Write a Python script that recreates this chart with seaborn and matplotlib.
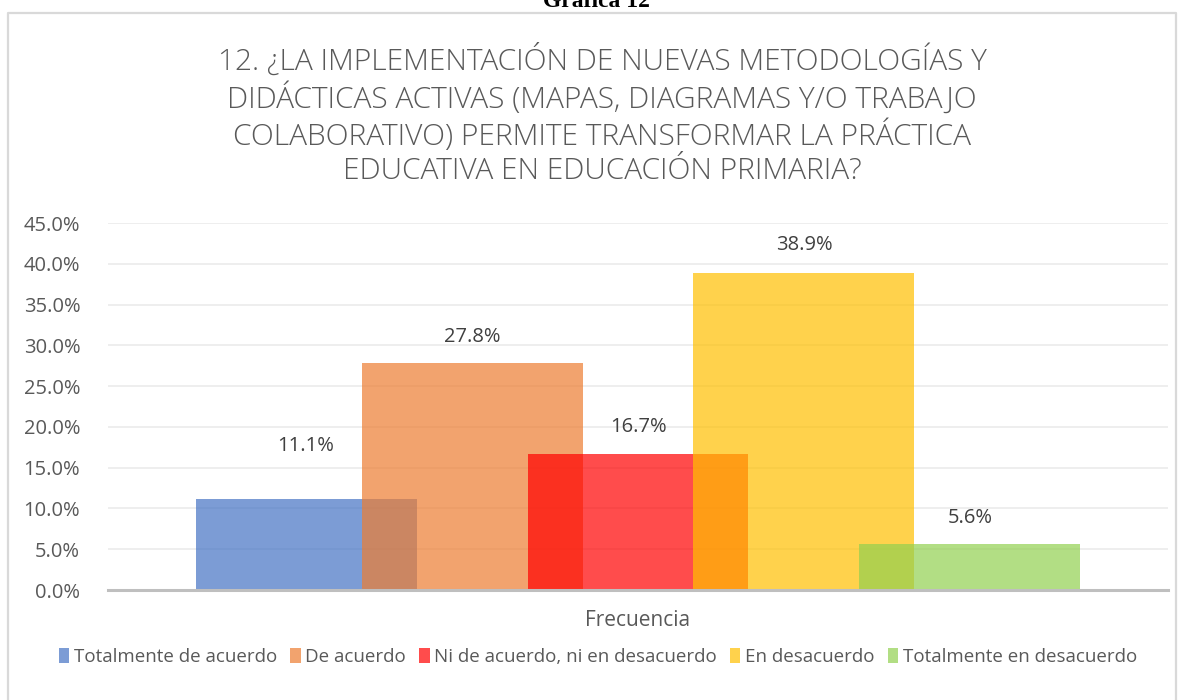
import numpy as np
import pandas as pd
import seaborn as sns
import matplotlib.pyplot as plt
from matplotlib.patches import Patch
from matplotlib.lines import Line2D

# datos de la gráfica
categoria = ["Frecuencia"]
respuestas = ["Totalmente de acuerdo", "De acuerdo", "Ni de acuerdo, ni en desacuerdo",
              "En desacuerdo", "Totalmente en desacuerdo"]
porcentajes = [0.111, 0.278, 0.167, 0.389, 0.056]
colores = ["#4472C4", "#ED7D31", "#FF0000", "#FFC000", "#92D050"]
titulo = ("12. ¿LA IMPLEMENTACIÓN DE NUEVAS METODOLOGÍAS Y\n"
          "DIDÁCTICAS ACTIVAS (MAPAS, DIAGRAMAS Y/O TRABAJO\n"
          "COLABORATIVO) PERMITE TRANSFORMAR LA PRÁCTICA\n"
          "EDUCATIVA EN EDUCACIÓN PRIMARIA?")

df = pd.DataFrame({"cat": categoria * len(respuestas),
                   "resp": respuestas,
                   "pct": porcentajes})

sns.set_theme(style="white")
plt.rcParams['font.family'] = ['Open Sans', 'DejaVu Sans']
gris = "#595959"

fig = plt.figure(figsize=(11.83, 7.0), dpi=100)
ax = fig.add_axes([108 / 1183, 1 - 590 / 700, 1060 / 1183, 367 / 700])

sns.barplot(data=df, x="cat", y="pct", hue="resp", hue_order=respuestas,
            palette=colores, width=0.783, alpha=0.7, saturation=1,
            legend=False, ax=ax, zorder=3)

# ensanchar las barras para que se solapen como en el original
factor = 221 / 166
for p in ax.patches:
    w = p.get_width()
    c = p.get_x() + w / 2
    p.set_width(w * factor)
    p.set_x(c - w * factor / 2)
    p.set_linewidth(0)

ax.set_ylim(0, 0.45)
ax.set_xlim(-0.5, 0.5)
ax.set_yticks(np.arange(0, 0.451, 0.05))
ax.yaxis.set_major_formatter(plt.FuncFormatter(lambda v, _: f"{v * 100:.1f}%"))
ax.tick_params(axis='y', labelsize=14.5, colors=gris, length=0, pad=20)
ax.tick_params(axis='x', length=0)
ax.set_xticklabels([])
ax.set_xlabel("")
ax.set_ylabel("")
ax.grid(axis='y', color="#EDEDED", linewidth=1.3, zorder=0)
for s in ["top", "right", "left"]:
    ax.spines[s].set_visible(False)
ax.spines["bottom"].set_color("#BFBFBF")
ax.spines["bottom"].set_linewidth(2.2)
ax.spines["bottom"].set_zorder(4)

# etiquetas de datos
desplaz = [31, 12, 12, 13, 12]
for p, v, d in zip(ax.patches, porcentajes, desplaz):
    ax.annotate(f"{v * 100:.1f}%", (p.get_x() + p.get_width() / 2, v),
                xytext=(0, d), textcoords="offset points", ha="center", va="bottom",
                fontsize=14.5, color="#404040")

fig.text(638 / 1183, 1 - 621 / 700, "Frecuencia", ha="center", va="center",
         fontsize=15, color=gris)

fig.text(602 / 1183, 1 - 115 / 700, titulo, ha="center", va="center",
         fontsize=21.5, color=gris, fontweight="light", linespacing=1.2)

# encabezado cortado del documento
fig.text(596 / 1183, 1 - 7 / 700, "Gráfica 12", ha="center", va="baseline",
         fontsize=17, fontweight="bold", family="Liberation Serif", color="black")

# borde del área del gráfico
fig.add_artist(Line2D([8 / 1183, 8 / 1183, 1176 / 1183, 1176 / 1183],
                      [0, 1 - 13 / 700, 1 - 13 / 700, 0],
                      transform=fig.transFigure, color="#D9D9D9", linewidth=1.6))

handles = [Patch(facecolor=c, alpha=0.7, edgecolor="none") for c in colores]
fig.legend(handles, respuestas, loc="center", bbox_to_anchor=(598 / 1183, 1 - 657 / 700),
           ncol=5, frameon=False, fontsize=13.5, handlelength=0.55, handleheight=0.9,
           handletextpad=0.25, columnspacing=0.7, labelcolor=gris)

fig.savefig("out.png", dpi=100)
